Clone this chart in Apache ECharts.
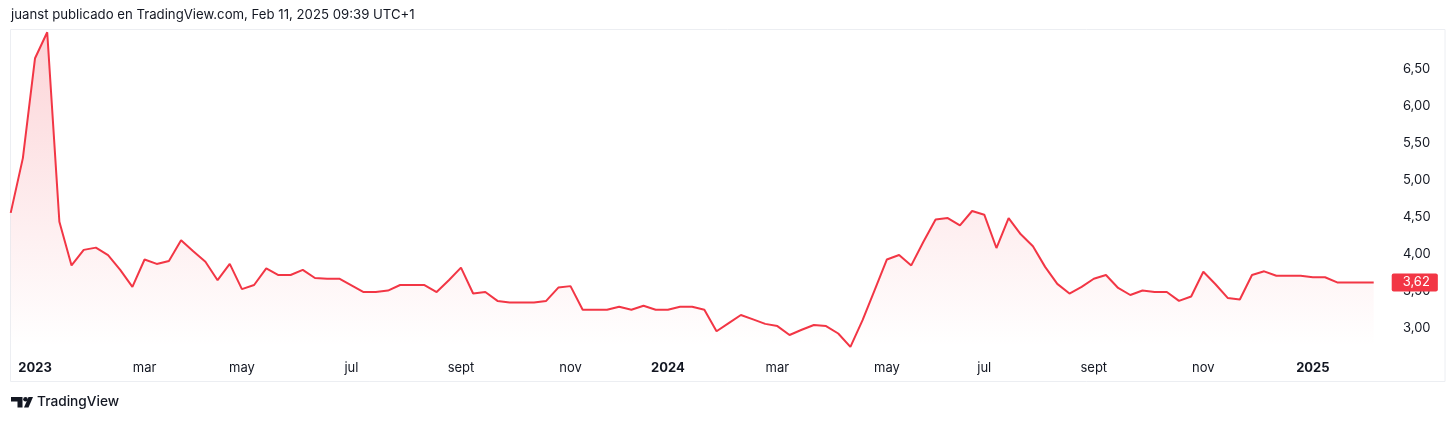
<!DOCTYPE html>
<html>
<head>
<meta charset="utf-8">
<script src="https://cdn.jsdelivr.net/npm/echarts@6/dist/echarts.min.js"></script>
<style>
  html, body { margin: 0; padding: 0; background: #ffffff; }
  #chart { width: 1456px; height: 421px; }
</style>
</head>
<body>
<div id="chart"></div>
<script>
// Weekly bars (Monday dates)
const weeks = [
  '2022-12-19','2022-12-26',
  '2023-01-02','2023-01-09','2023-01-16','2023-01-23','2023-01-30','2023-02-06','2023-02-13','2023-02-20','2023-02-27',
  '2023-03-06','2023-03-13','2023-03-20','2023-03-27','2023-04-03','2023-04-10','2023-04-17','2023-04-24',
  '2023-05-01','2023-05-08','2023-05-15','2023-05-22','2023-05-29','2023-06-05','2023-06-12','2023-06-19','2023-06-26',
  '2023-07-03','2023-07-10','2023-07-17','2023-07-24','2023-07-31','2023-08-07','2023-08-14','2023-08-21','2023-08-28',
  '2023-09-04','2023-09-11','2023-09-18','2023-09-25','2023-10-02','2023-10-09','2023-10-16','2023-10-23','2023-10-30',
  '2023-11-06','2023-11-13','2023-11-20','2023-11-27','2023-12-04','2023-12-11','2023-12-18','2023-12-25',
  '2024-01-01','2024-01-08','2024-01-15','2024-01-22','2024-01-29','2024-02-05','2024-02-12','2024-02-19','2024-02-26',
  '2024-03-04','2024-03-11','2024-03-18','2024-03-25','2024-04-01','2024-04-08','2024-04-15','2024-04-22','2024-04-29',
  '2024-05-06','2024-05-13','2024-05-20','2024-05-27','2024-06-03','2024-06-10','2024-06-17','2024-06-24',
  '2024-07-01','2024-07-08','2024-07-15','2024-07-22','2024-07-29','2024-08-05','2024-08-12','2024-08-19','2024-08-26',
  '2024-09-02','2024-09-09','2024-09-16','2024-09-23','2024-09-30','2024-10-07','2024-10-14','2024-10-21','2024-10-28',
  '2024-11-04','2024-11-11','2024-11-18','2024-11-25','2024-12-02','2024-12-09','2024-12-16','2024-12-23','2024-12-30',
  '2025-01-06','2025-01-13','2025-01-20','2025-01-27','2025-02-03','2025-02-10'
];

// Close values
const closes = [
  4.56, 5.30,
  6.65, 7.00, 4.44, 3.85, 4.06, 4.09, 3.99, 3.79, 3.56,
  3.93, 3.87, 3.91, 4.19, 4.04, 3.90, 3.65, 3.87,
  3.53, 3.585, 3.81, 3.72, 3.72, 3.79, 3.68, 3.67, 3.67,
  3.58, 3.49, 3.49, 3.51, 3.585, 3.585, 3.585, 3.49, 3.65,
  3.82, 3.47, 3.49, 3.37, 3.35, 3.35, 3.35, 3.37, 3.55,
  3.57, 3.25, 3.25, 3.25, 3.29, 3.25, 3.305, 3.25,
  3.25, 3.29, 3.29, 3.25, 2.96, 3.07, 3.18, 3.12, 3.06,
  3.03, 2.91, 2.98, 3.045, 3.03, 2.93, 2.75, 3.11, 3.52,
  3.93, 3.99, 3.85, 4.17, 4.47, 4.49, 4.39, 4.585,
  4.535, 4.085, 4.49, 4.27, 4.11, 3.83, 3.60, 3.47, 3.56,
  3.67, 3.72, 3.545, 3.45, 3.51, 3.49, 3.49, 3.37, 3.43,
  3.765, 3.595, 3.41, 3.39, 3.72, 3.77, 3.71, 3.71, 3.71,
  3.69, 3.69, 3.62, 3.62, 3.62, 3.62
];

// Tick labels for first bar of alternating months (Spanish)
const monthLabels = { 3: 'mar', 5: 'may', 7: 'jul', 9: 'sept', 11: 'nov' };
const priceTicks = [3.00, 3.50, 4.00, 4.50, 5.00, 5.50, 6.00, 6.50];

const titleText = 'juanst publicado en TradingView.com, Feb 11, 2025 09:39 UTC+1';
const lineColor = '#F23645';
const textColor = '#131722';

function isTickBar(idx) {
  const d = weeks[idx];
  const m = parseInt(d.slice(5, 7), 10);
  const day = parseInt(d.slice(8, 10), 10);
  return day <= 7 && (m === 1 || monthLabels[m] !== undefined);
}

const chart = echarts.init(document.getElementById('chart'), null, { renderer: 'canvas' });

const lastValue = closes[closes.length - 1];

const option = {
  backgroundColor: '#ffffff',
  animation: false,
  textStyle: { fontFamily: 'Inter, Roboto, sans-serif' },
  grid: { left: 10.7, right: 82.3, top: 32.3, bottom: 74.2, containLabel: false },
  xAxis: {
    type: 'category',
    data: weeks,
    boundaryGap: false,
    axisLine: { show: false },
    axisTick: { show: false },
    splitLine: { show: false },
    axisLabel: {
      interval: function (idx) { return isTickBar(idx); },
      margin: 15,
      fontSize: 13,
      color: textColor,
      fontFamily: 'Inter',
      hideOverlap: false,
      formatter: function (val) {
        const m = parseInt(val.slice(5, 7), 10);
        if (m === 1) return '{y|' + val.slice(0, 4) + '}';
        return monthLabels[m] || '';
      },
      rich: { y: { fontWeight: 'bold', fontSize: 13, fontFamily: 'Inter', color: textColor } }
    }
  },
  yAxis: {
    type: 'value',
    position: 'right',
    min: 2.75,
    max: 7.0,
    interval: 0.25,
    axisLine: { show: false },
    axisTick: { show: false },
    splitLine: { show: false },
    axisLabel: {
      margin: 29.3,
      fontSize: 13,
      color: textColor,
      fontFamily: 'Inter',
      showMinLabel: true,
      showMaxLabel: true,
      formatter: function (v) {
        const c = Math.round(v * 100);
        const ok = priceTicks.some(t => Math.round(t * 100) === c);
        return ok ? (c / 100).toFixed(2).replace('.', ',') : '';
      }
    }
  },
  graphic: [
    { type: 'rect', z: -10, silent: true,
      shape: { x: 10.5, y: 29.5, width: 1434.5, height: 352 },
      style: { fill: 'none', stroke: '#eceef2', lineWidth: 1 } },
    { type: 'text', left: 11, top: 9,
      style: { text: titleText, fill: textColor, font: '13.2px Inter' } },
    { type: 'polygon', silent: true,
      shape: { points: [[11, 397], [22.5, 397], [22.5, 407.5], [17.5, 407.5], [17.5, 401.5], [11, 401.5]] },
      style: { fill: textColor } },
    { type: 'circle', silent: true,
      shape: { cx: 25.5, cy: 399.3, r: 2.3 },
      style: { fill: textColor } },
    { type: 'polygon', silent: true,
      shape: { points: [[28.5, 397], [33, 397], [28.5, 407.5], [24, 407.5]] },
      style: { fill: textColor } },
    { type: 'text', left: 37, top: 395,
      style: { text: 'TradingView', fill: textColor, font: '500 13.7px Inter' } }
  ],
  series: [{
    type: 'line',
    data: closes,
    symbol: 'none',
    clip: false,
    lineStyle: { color: lineColor, width: 2 },
    itemStyle: { color: lineColor },
    areaStyle: {
      color: new echarts.graphic.LinearGradient(0, 0, 0, 1, [
        { offset: 0, color: 'rgba(242,54,69,0.30)' },
        { offset: 1, color: 'rgba(242,54,69,0.0)' }
      ])
    },
    markLine: {
      silent: true,
      symbol: ['none', 'none'],
      animation: false,
      lineStyle: { color: 'rgba(0,0,0,0)', width: 0, type: 'solid' },
      data: [{ yAxis: lastValue }],
      label: {
        show: true,
        position: 'end',
        distance: 18,
        formatter: function (p) { return Number(p.value).toFixed(2).replace('.', ','); },
        backgroundColor: lineColor,
        color: '#ffffff',
        fontSize: 13,
        fontFamily: 'Inter',
        padding: [3, 8, 2, 11],
        borderRadius: 2
      }
    }
  }]
};

chart.setOption(option);
</script>
</body>
</html>
